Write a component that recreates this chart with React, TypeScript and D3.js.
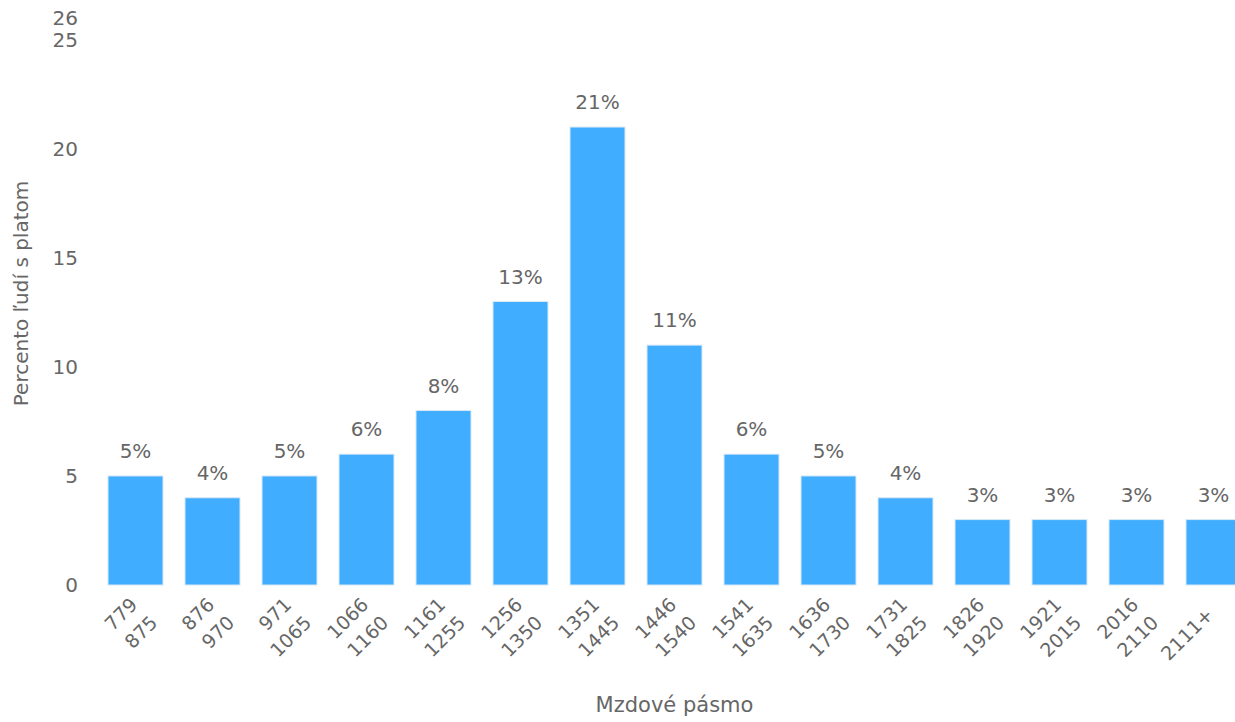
import React from "react";
import { scaleBand, scaleLinear } from "d3";

const bands: string[][] = [
  ["779", "875"],
  ["876", "970"],
  ["971", "1065"],
  ["1066", "1160"],
  ["1161", "1255"],
  ["1256", "1350"],
  ["1351", "1445"],
  ["1446", "1540"],
  ["1541", "1635"],
  ["1636", "1730"],
  ["1731", "1825"],
  ["1826", "1920"],
  ["1921", "2015"],
  ["2016", "2110"],
  ["2111+"],
];
const percents = [5, 4, 5, 6, 8, 13, 21, 11, 6, 5, 4, 3, 3, 3, 3];
const yTicks = [0, 5, 10, 15, 20, 25, 26];

const font = "DejaVu Sans, sans-serif";
const textColor = "#666";
const barColor = "#40adff";

export default function App() {
  const width = 1235;
  const height = 722;
  const keys = bands.map((b) => b.join("-"));

  const x = scaleBand<string>()
    .domain(keys)
    .range([97, 1252])
    .paddingInner(0.286)
    .paddingOuter(0.143);
  const y = scaleLinear().domain([0, 26]).range([585, 18]);

  return (
    <svg
      width={width}
      height={height}
      style={{ position: "absolute", left: 0, top: 0, fontFamily: font }}
    >
      <rect width={width} height={height} fill="#fff" />

      {/* y axis ticks */}
      {yTicks.map((t) => (
        <text
          key={`yt-${t}`}
          x={78}
          y={y(t)}
          dy="0.35em"
          textAnchor="end"
          fontSize={20}
          fill={textColor}
        >
          {t}
        </text>
      ))}
      <text
        transform={`translate(28, ${(y(0) + y(26)) / 2 - 8}) rotate(-90)`}
        textAnchor="middle"
        fontSize={20}
        fill={textColor}
      >
        Percento ľudí s platom
      </text>

      {/* bars + value labels */}
      {percents.map((v, i) => {
        const k = keys[i];
        const bx = x(k)!;
        return (
          <g key={`bar-${k}`}>
            <rect
              x={bx}
              y={y(v)}
              width={x.bandwidth()}
              height={y(0) - y(v)}
              fill={barColor}
              stroke="#d8e8f5"
              strokeWidth={1}
            />
            <text
              x={bx + x.bandwidth() / 2}
              y={y(v) - 18}
              textAnchor="middle"
              fontSize={20}
              fill={textColor}
            >
              {v}%
            </text>
          </g>
        );
      })}

      {/* x tick labels, one rotated text per line */}
      {bands.map((lines, i) => {
        const cx = x(keys[i])! + x.bandwidth() / 2;
        const two = lines.length > 1;
        return lines.map((l, j) => {
          const tx = (two ? cx + 3 : cx + 1) + j * 20;
          const ty = (two ? 606 : 616) + j * 18;
          return (
            <text
              key={`xl-${keys[i]}-${j}`}
              transform={`translate(${tx}, ${ty}) rotate(-45)`}
              textAnchor="end"
              fontSize={19}
              fill={textColor}
            >
              {l}
            </text>
          );
        });
      })}
      <text
        x={(97 + 1252) / 2}
        y={712}
        textAnchor="middle"
        fontSize={21}
        fill={textColor}
      >
        Mzdové pásmo
      </text>
    </svg>
  );
}
